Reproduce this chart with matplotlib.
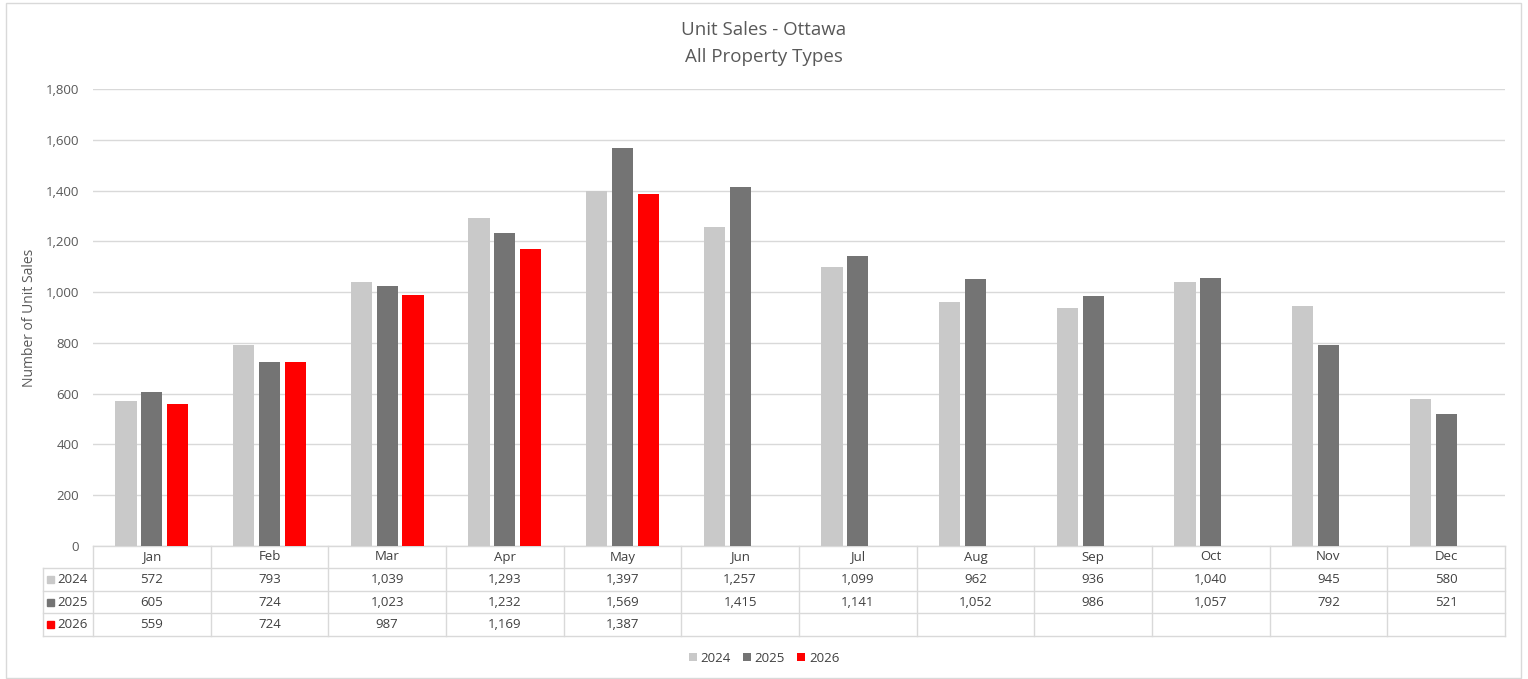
import matplotlib.pyplot as plt
import matplotlib.transforms as mtransforms
from matplotlib.patches import Rectangle
from matplotlib.lines import Line2D
import numpy as np

plt.rcParams['font.family'] = ['Open Sans', 'DejaVu Sans']

# monthly unit sales, all property types
months = ['Jan', 'Feb', 'Mar', 'Apr', 'May', 'Jun', 'Jul', 'Aug', 'Sep', 'Oct', 'Nov', 'Dec']
years = ['2024', '2025', '2026']
sales_2024 = [572, 793, 1039, 1293, 1397, 1257, 1099, 962, 936, 1040, 945, 580]
sales_2025 = [605, 724, 1023, 1232, 1569, 1415, 1141, 1052, 986, 1057, 792, 521]
sales_2026 = [559, 724, 987, 1169, 1387]
series = [sales_2024, sales_2025, sales_2026]
colors = ['#c9c9c9', '#747474', '#ff0000']

W, H = 1528, 679
fig = plt.figure(figsize=(W / 100, H / 100), dpi=100)
ax = fig.add_axes([93 / W, 1 - 546 / H, (1505 - 93) / W, (546 - 89) / H])

grid_c = '#d9d9d9'
text_c = '#595959'

width = 0.18
offsets = [-0.22, 0, 0.22]
handles = []
for vals, col, off, yr in zip(series, colors, offsets, years):
    x = np.arange(len(vals)) + off
    b = ax.bar(x, vals, width, color=col, label=yr, zorder=3)
    handles.append(b)

ax.set_xlim(-0.5, 11.5)
ax.set_ylim(0, 1800)
ax.set_yticks(np.arange(0, 1801, 200))
ax.set_yticklabels([f'{v:,}' for v in range(0, 1801, 200)])
ax.set_xticks([])
ax.tick_params(axis='y', length=0, pad=10, labelsize=9.5, labelcolor=text_c)
ax.grid(axis='y', color=grid_c, linewidth=1, zorder=0)
for s in ax.spines.values():
    s.set_visible(False)
ax.set_ylabel('Number of Unit Sales', fontsize=10, color=text_c, labelpad=6)

fig.text(0.5, 1 - 30 / H, 'Unit Sales - Ottawa', ha='center', va='center', fontsize=13.5, color=text_c)
fig.text(0.5, 1 - 57 / H, 'All Property Types', ha='center', va='center', fontsize=13.5, color=text_c)

# data table under the axes
ax_h = 546 - 89
ax_w = 1505 - 93
row_y = [0, -22 / ax_h, -45 / ax_h, -67 / ax_h, -90 / ax_h]
lab_x = (43 - 93) / ax_w
blend = mtransforms.blended_transform_factory(ax.transData, ax.transAxes)
lkw = dict(color=grid_c, linewidth=1, clip_on=False)

ax.add_line(Line2D([-0.5, 11.5], [row_y[0], row_y[0]], transform=blend, **lkw))
for y in row_y[1:]:
    ax.add_line(Line2D([lab_x, 1], [y, y], transform=ax.transAxes, **lkw))
for k in range(13):
    ax.add_line(Line2D([k - 0.5, k - 0.5], [row_y[0], row_y[-1]], transform=blend, **lkw))
ax.add_line(Line2D([lab_x, lab_x], [row_y[1], row_y[-1]], transform=ax.transAxes, **lkw))

tc = '#404040'
for i, m in enumerate(months):
    ax.text(i, (row_y[0] + row_y[1]) / 2, m, transform=blend, ha='center', va='center',
            fontsize=9.5, color=tc, clip_on=False)
for r, (vals, col, yr) in enumerate(zip(series, colors, years)):
    yc = (row_y[r + 1] + row_y[r + 2]) / 2
    for i, v in enumerate(vals):
        ax.text(i, yc, f'{v:,}', transform=blend, ha='center', va='center',
                fontsize=9.5, color=tc, clip_on=False)
    ax.add_patch(Rectangle((lab_x + 4 / ax_w, yc - 3.5 / ax_h), 7 / ax_w, 7 / ax_h,
                           transform=ax.transAxes, color=col, clip_on=False))
    ax.text(lab_x + 14 / ax_w, yc, yr, transform=ax.transAxes, ha='left', va='center',
            fontsize=9.5, color=tc, clip_on=False)

fig.legend(handles=handles, labels=years, loc='center', bbox_to_anchor=(0.5, 1 - 658 / H),
           ncol=3, frameon=False, fontsize=9.5, labelcolor=tc, handlelength=0.6,
           handleheight=0.6, handletextpad=0.3, columnspacing=0.9)

# thin frame around the whole chart
fig.patches.append(Rectangle((6 / W, 0.002), (1521 - 6) / W, 1 - 3 / H - 0.002,
                             transform=fig.transFigure, fill=False,
                             edgecolor='#d9d9d9', linewidth=1))

fig.savefig('out.png', dpi=100, facecolor='white')
